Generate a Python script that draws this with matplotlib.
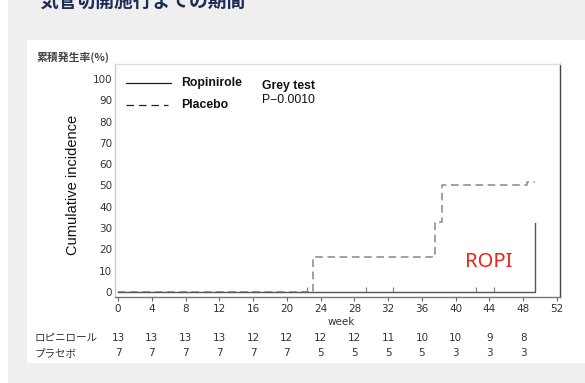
#!/usr/bin/env python3

# Cumulative incidence plot, ropinirole vs placebo, with number at risk table

import matplotlib
matplotlib.use('Agg')
import matplotlib.pyplot as plt
from matplotlib.patches import Rectangle

# Step curves (week, cumulative incidence %)
ropi_weeks = [0, 49.4, 49.4]
ropi_inc = [0, 0, 32.5]
plac_weeks = [0, 23.1, 37.6, 38.4, 48.4, 49.4]
plac_inc = [0, 16.5, 33.0, 50.0, 51.5, 51.5]
# Censor marks on the ropinirole line
ropi_censor = [22.4, 29.4, 32.6, 42.4, 44.6]

# Number at risk
risk_weeks = [0, 4, 8, 12, 16, 20, 24, 28, 32, 36, 40, 44, 48]
risk_ropi = [13, 13, 13, 13, 12, 12, 12, 12, 11, 10, 10, 9, 8]
risk_plac = [7, 7, 7, 7, 7, 7, 5, 5, 5, 5, 3, 3, 3]

xticks = list(range(0, 53, 4))
yticks = list(range(0, 101, 10))

W, H = 585, 383
JP = ['Noto Sans CJK JP', 'DejaVu Sans']

fig = plt.figure(figsize=(W / 100, H / 100), dpi=100, facecolor='#efefef')

# background panels
fig.patches.append(Rectangle((27 / W, 1 - 363 / H), 1, (363 - 40) / H,
                             transform=fig.transFigure, facecolor='white',
                             edgecolor='none', zorder=-5))
fig.patches.append(Rectangle((0, 0), 8 / W, 1, transform=fig.transFigure,
                             facecolor='white', edgecolor='none', zorder=-5))

# title, cut off by the top edge as in the source page
fig.text(40 / W, 1 - 11 / H, '気管切開施行までの期間', family=JP,
         fontsize=13.5, fontweight='bold', color='#1d2b55',
         ha='left', va='bottom')

ax = fig.add_axes([115 / W, 1 - 297 / H, (560 - 115) / W, (297 - 64) / H])
ax.set_zorder(2)
ax.set_xlim(-0.36, 52.36)
ax.set_ylim(-2.35, 107)

ax.step(plac_weeks, plac_inc, where='post', color='#888888', lw=1.1,
        ls=(0, (5, 3)))
ax.step(ropi_weeks, ropi_inc, where='post', color='#555555', lw=1.0)
ax.vlines(ropi_censor, 0, 2.5, color='#777777', lw=0.8)

ax.set_xticks(xticks)
ax.set_yticks(yticks)
ax.tick_params(axis='x', length=3, width=0.8, color='#666666', labelsize=7.5,
               labelcolor='#333333', pad=2)
ax.tick_params(axis='y', length=0, labelsize=7.5, labelcolor='#333333', pad=2)
for lab in ax.get_xticklabels() + ax.get_yticklabels():
    lab.set_family('Liberation Sans Narrow')

ax.spines['top'].set_color('#dddddd')
ax.spines['left'].set_color('#cccccc')
ax.spines['bottom'].set_color('#777777')
ax.spines['right'].set_color('#444444')
for s in ax.spines.values():
    s.set_linewidth(1.0)

# legend drawn by hand in axes coordinates
ax.plot([0.025, 0.125], [0.918, 0.918], transform=ax.transAxes,
        color='#222222', lw=0.9)
ax.plot([0.025, 0.12], [0.826, 0.826], transform=ax.transAxes,
        color='#222222', lw=0.9, ls=(0, (6, 4)))
ax.text(0.148, 0.918, 'Ropinirole', transform=ax.transAxes, fontsize=8.8,
        family='Liberation Sans', fontweight='bold', va='center',
        color='#111111')
ax.text(0.148, 0.826, 'Placebo', transform=ax.transAxes, fontsize=8.8,
        family='Liberation Sans', fontweight='bold', va='center',
        color='#111111')
ax.text(0.33, 0.905, 'Grey test', transform=ax.transAxes, fontsize=8.8,
        family='Liberation Sans', fontweight='bold', va='center',
        color='#111111')
ax.text(0.33, 0.845, 'P\u22120.0010', transform=ax.transAxes, fontsize=8.8,
        family='Liberation Sans', va='center', color='#111111')

ax.text(0.84, 0.15, 'ROPI', transform=ax.transAxes, fontsize=14.5,
        family='Noto Sans', color='#e8231d', ha='center', va='center')

# axis titles
fig.text(37 / W, 1 - 57 / H, '累積発生率(%)', family=JP, fontsize=7.8,
         fontweight='bold', color='#444444', ha='left', va='center')
fig.text(73 / W, 1 - 185 / H, 'Cumulative incidence', family='Liberation Sans',
         fontsize=10.5, rotation=90, ha='center', va='center', color='#111111')
ax.text(26.5, -14, 'week', family='Liberation Sans Narrow', fontsize=7.5,
        color='#333333', ha='center', va='center', clip_on=False)

# number at risk table
fig.text(35 / W, 1 - 338 / H, 'ロピニロール', family=JP, fontsize=7.6,
         color='#333333', ha='left', va='center')
fig.text(35 / W, 1 - 353 / H, 'プラセボ', family=JP, fontsize=7.6,
         color='#333333', ha='left', va='center')
for wk, r, p in zip(risk_weeks, risk_ropi, risk_plac):
    ax.text(wk, -21.5, str(r), family='Liberation Sans Narrow', fontsize=7.5,
            color='#333333', ha='center', va='center', clip_on=False)
    ax.text(wk, -28.5, str(p), family='Liberation Sans Narrow', fontsize=7.5,
            color='#333333', ha='center', va='center', clip_on=False)

fig.savefig('out.png', dpi=100, facecolor=fig.get_facecolor())
